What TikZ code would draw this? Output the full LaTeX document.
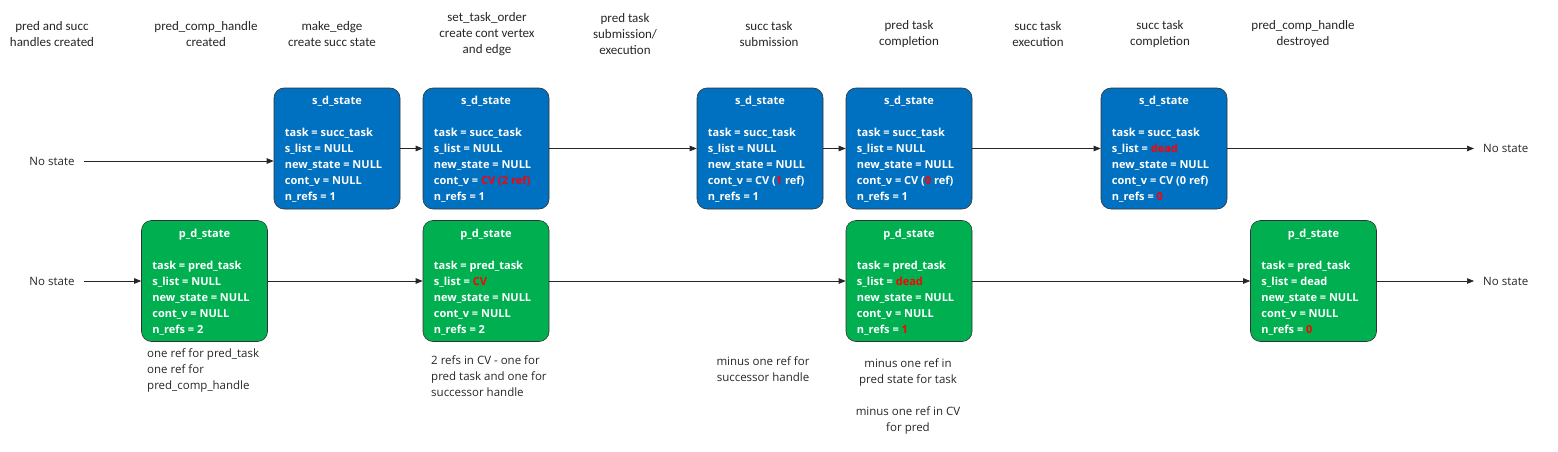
\documentclass[tikz,border=0pt]{standalone}
\usepackage{fontspec}
\setmainfont{Open Sans}
\newfontfamily\hdrfont{Carlito}
\usetikzlibrary{arrows.meta}
\definecolor{sblue}{HTML}{0070C0}
\definecolor{pgreen}{HTML}{00B050}
\definecolor{hl}{HTML}{FF0000}
\begin{document}
\begin{tikzpicture}[x=1pt,y=-1pt,
  statebox/.style={draw=black!80, line width=0.6pt, rounded corners=10pt, minimum width=126pt, minimum height=121pt, inner sep=0pt},
  sbox/.style={statebox, fill=sblue},
  pbox/.style={statebox, fill=pgreen},
  boxtitle/.style={text=white, font=\fontsize{11}{16}\selectfont\bfseries, inner sep=0pt, anchor=base},
  boxbody/.style={text=white, font=\fontsize{11}{16}\selectfont\bfseries, inner sep=0pt, anchor=base west, align=left},
  hdr/.style={font=\hdrfont\fontsize{13}{16}\selectfont, align=center, inner sep=0pt, text=black!85},
  note/.style={font=\fontsize{11.5}{16}\selectfont, inner sep=0pt, text=black!85},
  nostate/.style={font=\fontsize{11.5}{16}\selectfont, inner xsep=9pt, inner ysep=0pt, text=black!85},
  flow/.style={draw=black!85, line width=0.7pt, -{Triangle[length=7pt,width=5.5pt]}},
]
\useasboundingbox (0,0) rectangle (1558,452);

% headers
\node[hdr] (h1) at (52,34) {pred and succ\\handles created};
\node[hdr] (h2) at (206,34) {pred\_comp\_handle\\created};
\node[hdr] (h3) at (332,34) {make\_edge\\create succ state};
\node[hdr] (h4) at (487,34) {set\_task\_order\\create cont vertex\\and edge};
\node[hdr] (h5) at (625,34) {pred task\\submission/\\execution};
\node[hdr] (h6) at (769,34) {succ task\\submission};
\node[hdr] (h7) at (909,34) {pred task\\completion};
\node[hdr] (h8) at (1038,34) {succ task\\execution};
\node[hdr] (h9) at (1160,34) {succ task\\completion};
\node[hdr] (h10) at (1303,34) {pred\_comp\_handle\\destroyed};

% boxes
\node[sbox] (s1) at (337,148.5) {};
\node[sbox] (s2) at (486,148.5) {};
\node[sbox] (s3) at (760,148.5) {};
\node[sbox] (s4) at (909,148.5) {};
\node[sbox] (s5) at (1164,148.5) {};
\node[pbox] (p1) at (204.5,281) {};
\node[pbox] (p2) at (486,281) {};
\node[pbox] (p3) at (909,281) {};
\node[pbox] (p4) at (1313.5,281) {};

% box contents (anchored at the baseline of the last line)
\foreach \b in {s1,s2,s3,s4,s5} {
  \node[boxtitle] (\b t) at ([yshift=-17pt]\b.north) {s\_d\_state};
}
\foreach \b in {p1,p2,p3,p4} {
  \node[boxtitle] (\b t) at ([yshift=-17pt]\b.north) {p\_d\_state};
}
\node[boxbody] (s1b) at ([xshift=11pt,yshift=-113pt]s1.north west)
  {task = succ\_task\\s\_list = NULL\\new\_state = NULL\\cont\_v = NULL\\n\_refs = 1};
\node[boxbody] (s2b) at ([xshift=11pt,yshift=-113pt]s2.north west)
  {task = succ\_task\\s\_list = NULL\\new\_state = NULL\\cont\_v = \textcolor{hl}{CV (2 ref)}\\n\_refs = 1};
\node[boxbody] (s3b) at ([xshift=11pt,yshift=-113pt]s3.north west)
  {task = succ\_task\\s\_list = NULL\\new\_state = NULL\\cont\_v = CV (\textcolor{hl}{1} ref)\\n\_refs = 1};
\node[boxbody] (s4b) at ([xshift=11pt,yshift=-113pt]s4.north west)
  {task = succ\_task\\s\_list = NULL\\new\_state = NULL\\cont\_v = CV (\textcolor{hl}{0} ref)\\n\_refs = 1};
\node[boxbody] (s5b) at ([xshift=11pt,yshift=-113pt]s5.north west)
  {task = succ\_task\\s\_list = \textcolor{hl}{dead}\\new\_state = NULL\\cont\_v = CV (0 ref)\\n\_refs = \textcolor{hl}{0}};
\node[boxbody] (p1b) at ([xshift=11pt,yshift=-113pt]p1.north west)
  {task = pred\_task\\s\_list = NULL\\new\_state = NULL\\cont\_v = NULL\\n\_refs = 2};
\node[boxbody] (p2b) at ([xshift=11pt,yshift=-113pt]p2.north west)
  {task = pred\_task\\s\_list = \textcolor{hl}{CV}\\new\_state = NULL\\cont\_v = NULL\\n\_refs = 2};
\node[boxbody] (p3b) at ([xshift=11pt,yshift=-113pt]p3.north west)
  {task = pred\_task\\s\_list = \textcolor{hl}{dead}\\new\_state = NULL\\cont\_v = NULL\\n\_refs = \textcolor{hl}{1}};
\node[boxbody] (p4b) at ([xshift=11pt,yshift=-113pt]p4.north west)
  {task = pred\_task\\s\_list = dead\\new\_state = NULL\\cont\_v = NULL\\n\_refs = \textcolor{hl}{0}};

% no state labels
\node[nostate] (nsl1) at (52,161) {No state};
\node[nostate] (nsl2) at (52,281) {No state};
\node[nostate, anchor=west] (nsr1) at (1474,148.5) {No state};
\node[nostate, anchor=west] (nsr2) at (1474,281) {No state};

% notes (anchored at the baseline of the last line)
\node[note, anchor=base west, align=left] (n1) at (147,389)
  {one ref for pred\_task\\one ref for\\pred\_comp\_handle};
\node[note, anchor=base west, align=left] (n2) at (431,396)
  {2 refs in CV - one for\\pred task and one for\\successor handle};
\node[note, anchor=base, align=center] (n3) at (763,381)
  {minus one ref for\\successor handle};
\node[note, anchor=base, align=center] (n4) at (908,431)
  {minus one ref in\\pred state for task\\[16pt]minus one ref in CV\\for pred};

% connectors top row
\draw[flow] (nsl1.east) -- (nsl1.east -| s1.west);
\draw[flow] (s1.east) -- (s2.west);
\draw[flow] (s2.east) -- (s3.west);
\draw[flow] (s3.east) -- (s4.west);
\draw[flow] (s4.east) -- (s5.west);
\draw[flow] (s5.east) -- (nsr1.west);
% connectors bottom row
\draw[flow] (nsl2.east) -- (p1.west);
\draw[flow] (p1.east) -- (p2.west);
\draw[flow] (p2.east) -- (p3.west);
\draw[flow] (p3.east) -- (p4.west);
\draw[flow] (p4.east) -- (nsr2.west);
\end{tikzpicture}
\end{document}
